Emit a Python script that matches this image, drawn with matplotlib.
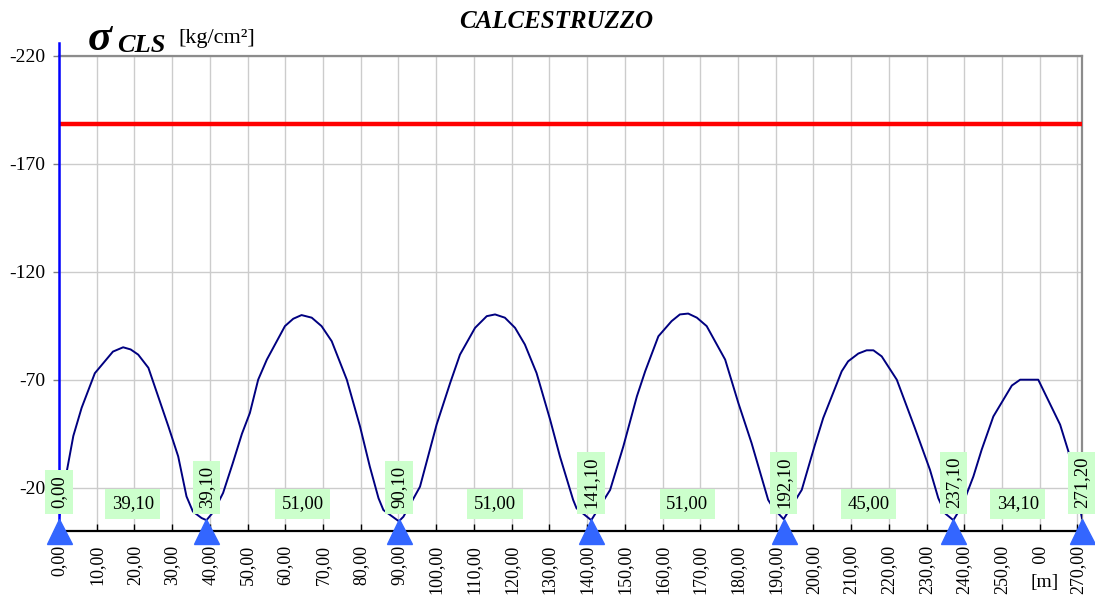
import matplotlib
matplotlib.use("Agg")
import matplotlib.pyplot as plt

plt.rcParams['font.family'] = ['Liberation Serif', 'DejaVu Serif']

# ---- data ----
x_curve = [0.0, 2.0, 3.8, 6.0, 9.5, 14.3, 17.0, 19.0, 21.0, 23.7, 29.0, 31.6, 33.8, 35.5, 37.8, 39.1,
           41.0, 43.5, 46.0, 48.5, 50.6, 52.8, 55.1, 59.9, 62.1, 64.3, 67.0, 69.6, 72.3, 76.3, 79.8,
           82.4, 84.7, 86.0, 90.1,
           91.3, 95.7, 100.1, 103.7, 106.3, 110.3, 113.4, 115.6, 118.2, 120.9, 123.5, 126.6, 130.2,
           132.8, 136.3, 137.2, 141.1,
           146.1, 149.6, 153.2, 155.4, 158.9, 162.4, 164.6, 166.8, 169.1, 171.7, 176.6, 180.1, 183.6,
           188.0, 189.4, 192.1,
           196.9, 200.4, 202.6, 207.5, 209.2, 211.9, 214.1, 215.9, 218.1, 222.1, 226.9, 230.9, 233.1,
           235.0, 237.1,
           239.5, 242.4, 244.6, 247.7, 252.6, 254.8, 259.6, 265.4, 267.6, 269.5, 271.2]
y_curve = [-6.0, -27.0, -44.0, -57.0, -73.0, -83.0, -85.0, -84.0, -81.6, -75.5, -48.4, -34.5, -16.0, -9.0, -6.0, -5.0,
           -9.0, -17.6, -31.0, -45.0, -54.6, -70.0, -79.3, -94.8, -98.2, -99.9, -98.7, -94.8, -87.8, -70.0, -48.4,
           -29.8, -15.2, -9.7, -4.5,
           -6.6, -20.5, -49.2, -68.5, -81.6, -94.0, -99.4, -100.2, -98.7, -94.0, -86.3, -73.1, -51.5,
           -34.5, -14.4, -10.5, -5.0,
           -19.0, -39.1, -62.3, -73.9, -90.1, -97.1, -100.2, -100.6, -98.7, -94.8, -79.3, -59.2, -40.7,
           -14.4, -10.5, -5.5,
           -19.0, -39.9, -52.3, -73.9, -78.5, -82.1, -83.6, -83.6, -80.8, -70.0, -47.6, -28.3, -15.2,
           -8.0, -5.0,
           -12.0, -25.2, -37.6, -53.0, -67.3, -70.0, -70.0, -49.2, -36.8, -20.0, -6.0]

supports = [0.00, 39.10, 90.10, 141.10, 192.10, 237.10, 271.20]
spans = [39.10, 51.00, 51.00, 51.00, 45.00, 34.10]
limit_value = -188.3
y_ticks = [-220, -170, -120, -70, -20]
x_ticks = list(range(0, 271, 10))

def fmt(v):
    return f"{v:.2f}".replace('.', ',')

# ---- figure ----
W, H = 1095, 598
fig = plt.figure(figsize=(W / 100, H / 100), dpi=100)
ax = fig.add_axes([59 / W, 1 - 531 / H, (1082 - 59) / W, (531 - 55.5) / H])
ax.set_xlim(supports[0], supports[-1])
ax.set_ylim(0, -220)

# grid
ax.set_xticks(x_ticks)
ax.set_xticklabels([fmt(v) for v in x_ticks], rotation=90, fontsize=13)
ax.set_yticks(y_ticks)
ax.set_yticklabels([str(v) for v in y_ticks], fontsize=14)
ax.grid(True, color='#cccccc', lw=1.0, zorder=0)
ax.set_axisbelow(True)
ax.tick_params(axis='x', direction='in', length=5, width=1, color='black', pad=10)
ax.tick_params(axis='y', direction='out', length=4, width=1, color='#808080', pad=6)

for s in ['top', 'right']:
    ax.spines[s].set_color('#8c8c8c')
    ax.spines[s].set_linewidth(1.6)
ax.spines['left'].set_visible(False)
ax.spines['bottom'].set_color('black')
ax.spines['bottom'].set_linewidth(1.6)

# limit line
ax.plot([supports[0], supports[-1]], [limit_value, limit_value], color='#ff0000', lw=3.2, zorder=3)

# stress curve
ax.plot(x_curve, y_curve, color='#000080', lw=1.4, zorder=3)

# blue vertical axis line
ax.plot([0, 0], [0, -225.8], color='#0000ff', lw=1.8, clip_on=False, zorder=4)

# span labels
box = dict(boxstyle='square,pad=0.35', fc='#ccffcc', ec='none')
for i, L in enumerate(spans):
    mid = (supports[i] + supports[i + 1]) / 2
    ax.text(mid, -12.5, fmt(L), ha='center', va='center', fontsize=13.5, bbox=box, zorder=6)

# support labels
for s in supports:
    ax.text(s, -10.5, fmt(s), rotation=90, ha='center', va='bottom', fontsize=13.5,
            bbox=dict(boxstyle='square,pad=0.28', fc='#ccffcc', ec='none'), zorder=6, clip_on=False)

# support triangles
ax.plot(supports, [0] * len(supports), linestyle='none', marker='^', ms=18,
        color='#3366ff', clip_on=False, zorder=7)

# titles / labels
fig.text(556 / W, 1 - 22 / H, 'CALCESTRUZZO', ha='center', va='center', fontsize=18,
         fontweight='bold', fontstyle='italic')
fig.text(100 / W, 1 - 39 / H, 'σ', ha='center', va='center', fontsize=32, fontweight='bold',
         fontstyle='italic')
fig.text(117 / W, 1 - 52 / H, 'CLS', ha='left', va='baseline', fontsize=19,
         fontweight='bold', fontstyle='italic')
fig.text(178 / W, 1 - 39 / H, '[kg/cm²]', ha='left', va='center', fontsize=16)
fig.text(1045 / W, 1 - 582 / H, '[m]', ha='center', va='center', fontsize=14,
         bbox=dict(boxstyle='square,pad=0.45', fc='white', ec='none'), zorder=10)

fig.savefig('out.png', dpi=100)
